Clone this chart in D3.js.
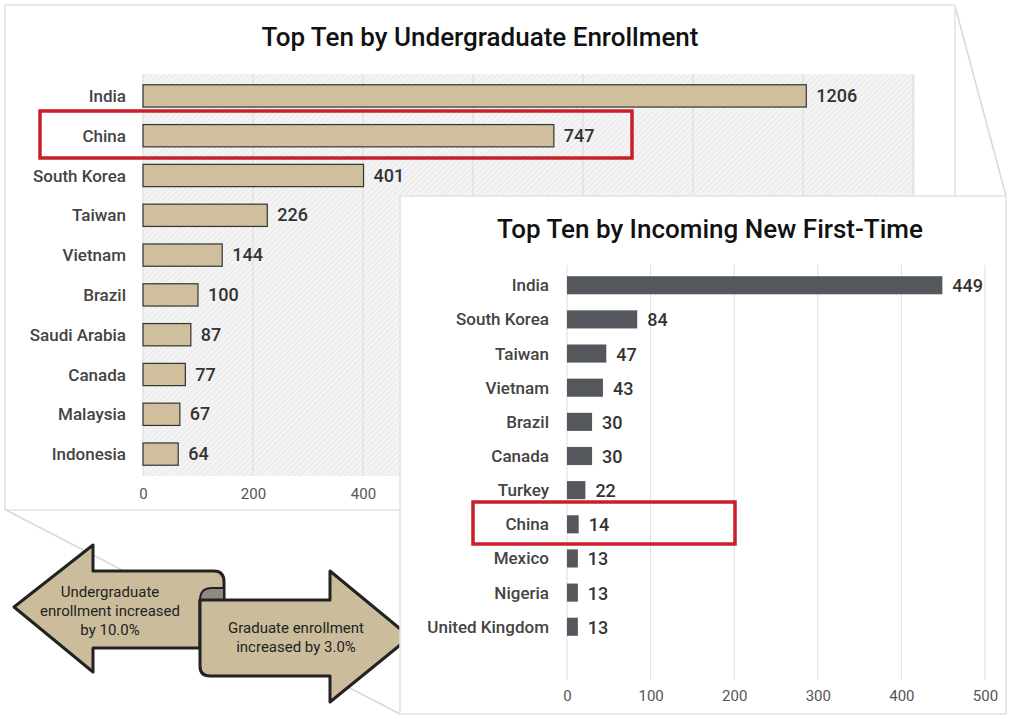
<!DOCTYPE html>
<html><head><meta charset="utf-8">
<script src="https://cdn.jsdelivr.net/npm/d3@7"></script>
<style>
body{margin:0;background:#fff;}
text{font-family:Roboto,"Liberation Sans",sans-serif;}
</style></head>
<body><svg id="c" width="1024" height="719"></svg>
<script>
const ugCountries = ["India","China","South Korea","Taiwan","Vietnam","Brazil","Saudi Arabia","Canada","Malaysia","Indonesia"];
const ugValues = [1206,747,401,226,144,100,87,77,67,64];
const ugTicks = [0,200,400,600,800,1000,1200,1400];

const newCountries = ["India","South Korea","Taiwan","Vietnam","Brazil","Canada","Turkey","China","Mexico","Nigeria","United Kingdom"];
const newValues = [449,84,47,43,30,30,22,14,13,13,13];
const newTicks = [0,100,200,300,400,500];

const svg = d3.select("#c");
const defs = svg.append("defs");
const pat = defs.append("pattern").attr("id","hatch").attr("width",4).attr("height",4)
  .attr("patternUnits","userSpaceOnUse").attr("patternTransform","rotate(45)");
pat.append("rect").attr("width",4).attr("height",4).attr("fill","#f4f4f4");
pat.append("line").attr("x1",0).attr("y1",0).attr("x2",0).attr("y2",4).attr("stroke","#dcdcdc").attr("stroke-width",1);

// connector lines
svg.append("path").attr("d","M955,6 L1006,196 M6,510 L400,714")
  .attr("stroke","#d8d8d8").attr("stroke-width",1.5).attr("fill","none");

// panel 1
svg.append("rect").attr("x",5).attr("y",5).attr("width",950).attr("height",505)
  .attr("fill","#fff").attr("stroke","#e2e2e2").attr("stroke-width",1.5);
svg.append("text").attr("x",480).attr("y",46).attr("text-anchor","middle")
  .attr("font-size",26).attr("font-weight",500).attr("fill","#111").text("Top Ten by Undergraduate Enrollment");

const x1 = d3.scaleLinear().domain([0,1400]).range([143,913]);
const y1 = d3.scaleBand().domain(ugCountries).range([76,474]).paddingInner(0.44).paddingOuter(0.22);
svg.append("rect").attr("x",x1(0)).attr("y",74).attr("width",x1(1400)-x1(0)+2).attr("height",402).attr("fill","url(#hatch)");
const g1 = svg.append("g");
g1.selectAll(".gl").data(ugTicks).join("line")
  .attr("x1",d=>x1(d)).attr("x2",d=>x1(d)).attr("y1",74).attr("y2",476).attr("stroke","#d9d9d9");
g1.selectAll(".b").data(ugValues).join("rect")
  .attr("x",x1(0)).attr("y",(d,i)=>y1(ugCountries[i])).attr("width",d=>x1(d)-x1(0))
  .attr("height",y1.bandwidth()).attr("fill","#cfbf9d").attr("stroke","#333").attr("stroke-width",1.2);
g1.selectAll(".v").data(ugValues).join("text")
  .attr("x",d=>x1(d)+10).attr("y",(d,i)=>y1(ugCountries[i])+y1.bandwidth()/2+6)
  .attr("font-size",18).attr("font-weight",500).attr("fill","#333").text(d=>d);
g1.selectAll(".l").data(ugCountries).join("text")
  .attr("x",126).attr("y",d=>y1(d)+y1.bandwidth()/2+6).attr("text-anchor","end")
  .attr("font-size",17).attr("font-weight",500).attr("fill","#444").text(d=>d);
const ax1 = svg.append("g").attr("transform","translate(0,485)")
  .call(d3.axisBottom(x1).tickValues(ugTicks).tickSize(0));
ax1.select(".domain").remove();
ax1.selectAll("text").attr("font-size",15).attr("fill","#555");

svg.append("rect").attr("x",40).attr("y",111).attr("width",592).attr("height",47)
  .attr("fill","none").attr("stroke","#c8202a").attr("stroke-width",3.5);

// arrows
const tan = "#cbbd9c";
svg.append("path").attr("d","M14,607 L93,545 L93,571 L214,571 Q224,571 224,582 L224,600 L200,600 L200,648 L93,648 L93,672 Z")
  .attr("fill",tan).attr("stroke","#222").attr("stroke-width",3).attr("stroke-linejoin","round");
svg.append("path").attr("d","M200,600 Q200,588 212,588 L224,588 L224,600 Z")
  .attr("fill","#8f8a80").attr("stroke","#222").attr("stroke-width",2);
svg.append("path").attr("d","M200,600 L330,600 L330,571 L410,637 L330,702 L330,676 L210,676 Q200,676 200,666 Z")
  .attr("fill",tan).attr("stroke","#222").attr("stroke-width",3).attr("stroke-linejoin","round");
const at = svg.append("g").attr("font-size",15).attr("fill","#222").attr("text-anchor","middle");
[["Undergraduate",597],["enrollment increased",616],["by 10.0%",635]].forEach(([t,y])=>at.append("text").attr("x",110).attr("y",y).text(t));
[["Graduate enrollment",633],["increased by 3.0%",652]].forEach(([t,y])=>at.append("text").attr("x",296).attr("y",y).text(t));

// panel 2
svg.append("rect").attr("x",400).attr("y",196).attr("width",606).attr("height",518)
  .attr("fill","#fff").attr("stroke","#e2e2e2").attr("stroke-width",1.5);
svg.append("text").attr("x",710).attr("y",238).attr("text-anchor","middle")
  .attr("font-size",26).attr("font-weight",500).attr("fill","#111").text("Top Ten by Incoming New First-Time");

const x2 = d3.scaleLinear().domain([0,500]).range([567,985]);
const y2 = d3.scaleBand().domain(newCountries).range([268,644]).paddingInner(0.47).paddingOuter(0.24);
const g2 = svg.append("g");
g2.selectAll(".gl").data(newTicks).join("line")
  .attr("x1",d=>x2(d)).attr("x2",d=>x2(d)).attr("y1",265).attr("y2",680).attr("stroke","#dedede");
g2.selectAll(".b").data(newValues).join("rect")
  .attr("x",x2(0)).attr("y",(d,i)=>y2(newCountries[i])).attr("width",d=>x2(d)-x2(0))
  .attr("height",y2.bandwidth()).attr("fill","#54575c");
g2.selectAll(".v").data(newValues).join("text")
  .attr("x",d=>x2(d)+10).attr("y",(d,i)=>y2(newCountries[i])+y2.bandwidth()/2+7)
  .attr("font-size",18).attr("font-weight",500).attr("fill","#333").text(d=>d);
g2.selectAll(".l").data(newCountries).join("text")
  .attr("x",549).attr("y",d=>y2(d)+y2.bandwidth()/2+6).attr("text-anchor","end")
  .attr("font-size",17).attr("font-weight",500).attr("fill","#444").text(d=>d);
const ax2 = svg.append("g").attr("transform","translate(0,687)")
  .call(d3.axisBottom(x2).tickValues(newTicks).tickSize(0));
ax2.select(".domain").remove();
ax2.selectAll("text").attr("font-size",15).attr("fill","#555");

svg.append("rect").attr("x",473).attr("y",502).attr("width",262).attr("height",42)
  .attr("fill","none").attr("stroke","#c8202a").attr("stroke-width",3.5);
</script></body></html>
